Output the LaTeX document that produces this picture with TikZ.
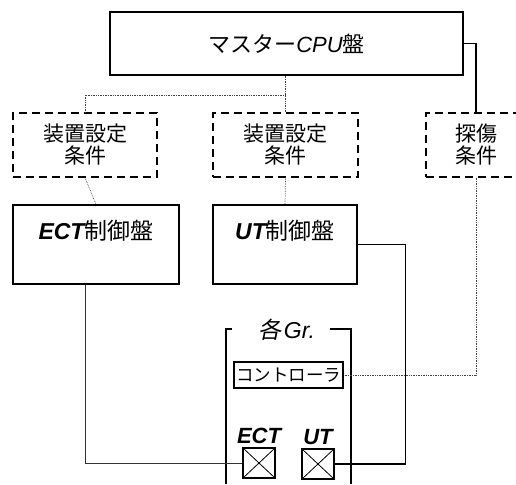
\documentclass[tikz,border=0pt]{standalone}
\usepackage{fontspec}
\setmainfont{Liberation Sans}
\newfontfamily\jpfont{Noto Sans CJK JP}
\newfontfamily\jpslant[FakeSlant=0.2]{Noto Sans CJK JP}
\newcommand{\eng}[1]{{\rmfamily\itshape #1}}
\newcommand{\sizejp}[1]{\jpfont\fontsize{#1}{22}\selectfont}
\usetikzlibrary{positioning,calc}

\begin{document}
\begin{tikzpicture}[x=1pt, y=-1pt,
  panel/.style={draw, line width=1.3pt, minimum width=#1, minimum height=79pt,
                text depth=30pt, inner sep=0pt, font=\sizejp{23}},
  cond/.style={draw, dash pattern=on 8pt off 5pt, line width=1.3pt,
               minimum width=#1, minimum height=64pt, align=center, font=\sizejp{21}},
  sensor/.style={draw, line width=1.1pt, minimum width=32pt, minimum height=30pt,
                 path picture={\draw[line width=0.8pt]
                   (path picture bounding box.north west) -- (path picture bounding box.south east)
                   (path picture bounding box.north east) -- (path picture bounding box.south west);}},
  link/.style={densely dotted, line width=0.7pt, black!75}]

  \useasboundingbox (0,0) rectangle (516,484);

  % upper level
  \node[draw, line width=1.3pt, minimum width=353pt, minimum height=63pt, font=\sizejp{22}]
       (master) at (286.5,43.5) {マスター\eng{CPU}盤};

  \node[cond=144pt] (set1) at (85,145)    {装置設定\\条件};
  \node[cond=145pt] (set2) at (285.5,145) {装置設定\\条件};
  \node[cond=100pt] (flaw) at (476,145)   {探傷\\条件};

  \node[panel=166pt] (ect) at (96,244.5)  {\eng{\bfseries ECT}制御盤};
  \node[panel=144pt] (ut)  at (285,244.5) {\eng{\bfseries UT}制御盤};

  % each group
  \node[font=\jpslant\fontsize{23}{24}\selectfont] (grp) at (287,330) {各\kern2pt\eng{Gr.}};
  \draw[line width=1.1pt] (232,329) -- (226,329) -- (226,484);
  \draw[line width=1.1pt] (330,329) -- (351,329) -- (351,484);

  \node[draw, line width=1.1pt, minimum width=109pt, minimum height=26pt, inner sep=0pt,
        font=\sizejp{17.5}] (ctrl) at (288.5,375) {コントローラ};

  \node[sensor] (ects) at (259,463) {};
  \node[sensor] (uts)  at (318,464) {};
  \node[font=\fontsize{22}{24}\selectfont\bfseries\itshape, above=0pt of ects] (ectlab) {ECT};
  \node[font=\fontsize{22}{24}\selectfont\bfseries\itshape, above=0pt of uts]  (utlab)  {UT};

  % connections
  \coordinate (split) at (285.5,95);
  \draw[link] (master.south -| set2.north) -- (set2.north);
  \draw[link] (split) -| (set1.north);
  \draw[link] (set1.south) -- (ect.north);
  \draw[link] (set2.south) -- (ut.north);
  \draw[link] (flaw.south) |- (ctrl.east);
  \draw[line width=1.3pt] (master.east) -| (flaw.north);
  \draw[line width=1.6pt] (ut.east) -- ++(48,0) |- (uts.east);
  \draw[line width=0.7pt, black!80] (ect.south -| set1.south) |- (ects.west);

\end{tikzpicture}
\end{document}
